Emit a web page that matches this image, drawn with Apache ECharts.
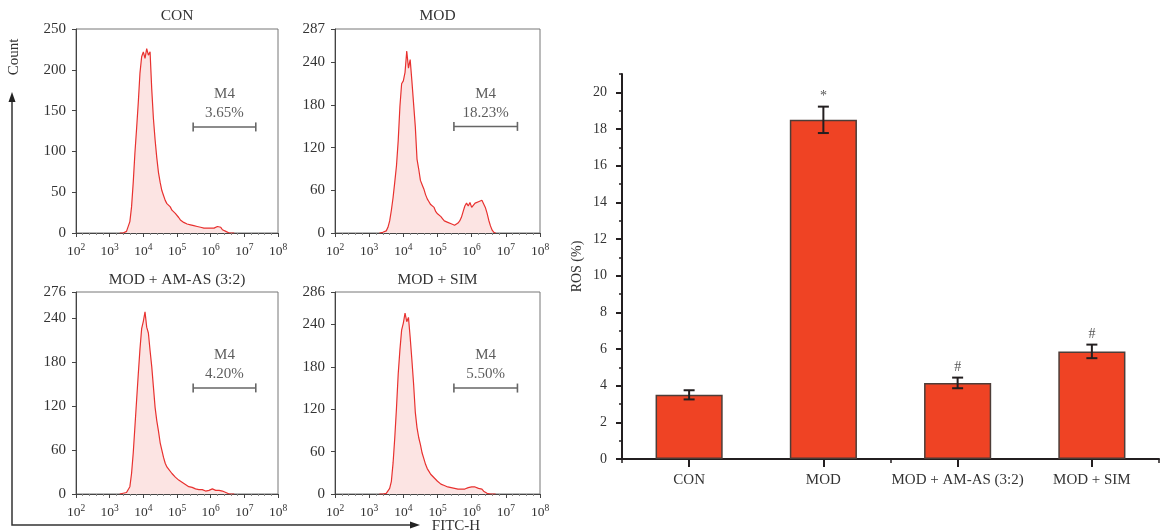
<!DOCTYPE html>
<html>
<head>
<meta charset="utf-8">
<title>ROS flow cytometry</title>
<script src="https://cdn.jsdelivr.net/npm/echarts@6.0.0/dist/echarts.min.js"></script>
<style>
  html, body { margin: 0; padding: 0; background: #fff; }
  #chart { width: 1165px; height: 532px; }
</style>
</head>
<body>
<div id="chart"></div>
<script>
  // log10(FITC-H) channel positions shared by the four histograms
  const bins = [
    3.30, 3.35, 3.40, 3.45, 3.50, 3.55, 3.60, 3.65, 3.70, 3.75,
    3.80, 3.85, 3.90, 3.95, 4.00, 4.05, 4.10, 4.15, 4.20, 4.25,
    4.30, 4.35, 4.40, 4.45, 4.50, 4.55, 4.60, 4.65, 4.70, 4.75,
    4.80, 4.85, 4.90, 4.95, 5.00, 5.05, 5.10, 5.15, 5.20, 5.25,
    5.30, 5.35, 5.40, 5.45, 5.50, 5.55, 5.60, 5.65, 5.70, 5.75,
    5.80, 5.85, 5.90, 5.95, 6.00, 6.05, 6.10, 6.15, 6.20, 6.25,
    6.30, 6.35, 6.40, 6.45, 6.50, 6.55, 6.60, 6.65, 6.70
  ];
  const conCounts = [
    0, 0, 0, 1, 2, 4, 14, 32, 62, 98,
    128, 160, 196, 216, 222, 214, 226, 218, 222, 176,
    140, 114, 92, 74, 62, 52, 46, 40, 36, 34,
    32, 28, 26, 24, 22, 19, 16, 15, 13, 12,
    11, 11, 10, 9, 9, 8, 8, 7, 7, 6,
    6, 5, 6, 5, 6, 5, 6, 7, 8, 6,
    7, 4, 3, 2, 1, 0, 0, 0, 0
  ];
  const modCounts = [
    0, 0, 1, 2, 3, 8, 17, 32, 50, 72,
    95, 130, 178, 210, 214, 226, 256, 232, 244, 214,
    212, 150, 104, 90, 74, 68, 62, 54, 48, 44,
    40, 38, 36, 30, 27, 26, 23, 20, 17, 18,
    15, 16, 13, 14, 11, 13, 14, 17, 22, 30,
    38, 42, 38, 43, 36, 38, 42, 40, 44, 42,
    46, 47, 36, 28, 18, 10, 4, 1, 0
  ];
  const amasCounts = [
    0, 0, 1, 1, 2, 4, 10, 28, 56, 92,
    128, 164, 198, 226, 236, 249, 228, 220, 196, 174,
    146, 118, 100, 86, 70, 60, 50, 42, 37, 34,
    32, 28, 26, 23, 21, 19, 18, 16, 14, 13,
    12, 10, 10, 9, 8, 7, 6, 6, 5, 6,
    5, 4, 6, 5, 6, 7, 6, 5, 6, 5,
    5, 4, 3, 2, 1, 0, 0, 0, 0
  ];
  const simCounts = [
    0, 0, 0, 1, 1, 2, 8, 18, 44, 80,
    122, 170, 204, 232, 242, 256, 244, 250, 222, 190,
    156, 116, 94, 80, 70, 58, 50, 42, 36, 32,
    28, 26, 23, 21, 18, 16, 14, 13, 12, 11,
    10, 10, 9, 9, 8, 8, 7, 8, 7, 8,
    7, 8, 9, 8, 10, 9, 10, 9, 8, 9,
    7, 4, 2, 1, 0, 0, 0, 0, 0
  ];
  const panelTitles = ['CON', 'MOD', 'MOD + AM-AS (3:2)', 'MOD + SIM'];
  const panelMax = [250, 287, 276, 286];
  const panelInterval = [50, 60, 60, 60];
  const decadeTicks = [2, 3, 4, 5, 6, 7, 8];
  // M4 gate: log10 range, drawn height (count) and gated percentage
  const gateRange = [5.48, 7.34];
  const gateLevel = [130, 150, 145, 150];
  const gatePercent = ['3.65%', '18.23%', '4.20%', '5.50%'];

  // ROS bar chart
  const groups = ['CON', 'MOD', 'MOD + AM-AS (3:2)', 'MOD + SIM'];
  const rosMean = [3.5, 18.5, 4.15, 5.87];
  const rosErr = [0.25, 0.72, 0.29, 0.37];
  const rosMark = ['', '*', '#', '#'];
  const rosTicks = [0, 2, 4, 6, 8, 10, 12, 14, 16, 18, 20];

  const histCounts = [conCounts, modCounts, amasCounts, simCounts];
  const FONT = 'Liberation Serif';
  const TXT = '#333';
  const AX = '#231F20';

  const panelBox = [
    {left: 76, top: 29, width: 202, height: 204},
    {left: 335, top: 29, width: 205, height: 204},
    {left: 76, top: 292, width: 202, height: 202},
    {left: 335, top: 292, width: 205, height: 202}
  ];

  const grid = [], xAxis = [], yAxis = [], series = [], graphic = [];

  panelBox.forEach(function (b, i) {
    grid.push(Object.assign({
      show: true, borderColor: '#777', borderWidth: 1,
      backgroundColor: 'transparent', outerBoundsMode: 'none'
    }, b));
    xAxis.push({
      type: 'value', gridIndex: i, min: decadeTicks[0], max: decadeTicks[decadeTicks.length - 1], interval: 1,
      axisLine: {show: true, lineStyle: {color: '#444', width: 1}},
      axisTick: {show: true, length: 4, lineStyle: {color: '#444'}},
      minorTick: {show: true, splitNumber: 5, length: 2, lineStyle: {color: '#888'}},
      splitLine: {show: false},
      axisLabel: {
        margin: 9, color: TXT, fontFamily: FONT,
        formatter: function (v) { return '{b|10}{s|' + v + '}'; },
        rich: {
          b: {fontFamily: FONT, fontSize: 13.5, color: TXT, lineHeight: 16, verticalAlign: 'bottom'},
          s: {fontFamily: FONT, fontSize: 9.5, color: TXT, lineHeight: 10, verticalAlign: 'top'}
        }
      }
    });
    yAxis.push({
      type: 'value', gridIndex: i, min: 0, max: panelMax[i], interval: panelInterval[i],
      axisLine: {show: true, lineStyle: {color: '#444', width: 1}},
      axisTick: {show: true, length: 4, lineStyle: {color: '#444'}},
      splitLine: {show: false},
      axisLabel: {margin: 10, color: TXT, fontFamily: FONT, fontSize: 15}
    });
    series.push({
      type: 'line', xAxisIndex: i, yAxisIndex: i, silent: true,
      data: bins.map(function (x, k) { return [x, histCounts[i][k]]; }),
      symbol: 'none', smooth: false,
      lineStyle: {color: '#E8312F', width: 1.2},
      areaStyle: {color: '#FCE4E3', opacity: 1}
    });
    series.push({
      type: 'line', xAxisIndex: i, yAxisIndex: i, silent: true,
      data: gateRange.map(function (x) { return [x, gateLevel[i]]; }),
      symbol: 'rect', symbolSize: [1.6, 9],
      lineStyle: {color: '#666', width: 1.5},
      itemStyle: {color: '#666'}
    });
    series.push({
      type: 'scatter', xAxisIndex: i, yAxisIndex: i, silent: true,
      data: [[(gateRange[0] + gateRange[1]) / 2, gateLevel[i]]],
      symbolSize: 0,
      label: {
        show: true, position: 'top', distance: 4,
        formatter: 'M4\n' + gatePercent[i],
        fontFamily: FONT, fontSize: 15, lineHeight: 19, color: TXT
      }
    });
    graphic.push({
      type: 'text', x: b.left + b.width / 2, y: i < 2 ? 16 : 280,
      style: {text: panelTitles[i], align: 'center', verticalAlign: 'middle',
        font: '15.5px "' + FONT + '"', fill: TXT}
    });
  });

  // bar chart grid (index 4)
  grid.push({left: 622, top: 74, width: 537, height: 385, outerBoundsMode: 'none'});
  xAxis.push({
    type: 'category', gridIndex: 4, data: groups,
    axisLine: {show: true, lineStyle: {color: AX, width: 2}},
    axisTick: {show: true, alignWithLabel: true, length: 8, lineStyle: {color: AX, width: 2}},
    axisLabel: {interval: 0, margin: 14, color: TXT, fontFamily: FONT, fontSize: 15}
  });
  xAxis.push({
    type: 'category', gridIndex: 4, data: groups, position: 'bottom',
    axisLine: {show: false},
    axisTick: {show: true, length: 4, lineStyle: {color: AX, width: 1.5}},
    axisLabel: {show: false}
  });
  yAxis.push({
    type: 'value', gridIndex: 4, min: 0, max: 21, interval: 1, position: 'left',
    name: 'ROS (%)', nameLocation: 'middle', nameGap: 38,
    nameTextStyle: {fontFamily: FONT, fontSize: 14, color: TXT},
    axisLine: {show: true, lineStyle: {color: AX, width: 2}},
    axisTick: {show: true, length: 3, lineStyle: {color: AX, width: 1.5}},
    splitLine: {show: false},
    axisLabel: {
      margin: 15, color: TXT, fontFamily: FONT, fontSize: 14,
      formatter: function (v) { return rosTicks.indexOf(v) >= 0 ? String(v) : ''; }
    }
  });
  yAxis.push({
    type: 'value', gridIndex: 4, min: 0, max: 21, interval: 2, position: 'left', offset: 0,
    axisLine: {show: false},
    axisTick: {show: true, length: 6, customValues: rosTicks, lineStyle: {color: AX, width: 2}},
    splitLine: {show: false},
    axisLabel: {show: false}
  });
  series.push({
    type: 'bar', xAxisIndex: 4, yAxisIndex: 4, data: rosMean, barWidth: '50%', silent: true,
    itemStyle: {color: '#EF4324', borderColor: '#4d3d38', borderWidth: 1.5}
  });
  series.push({
    type: 'custom', xAxisIndex: 4, yAxisIndex: 4, z: 5, silent: true,
    data: rosMean.map(function (m, i) { return [i, m, rosErr[i]]; }),
    renderItem: function (params, api) {
      const i = api.value(0), m = api.value(1), e = api.value(2);
      const hi = api.coord([i, m + e]);
      const lo = api.coord([i, m - e]);
      const cap = 5.5;
      const st = {stroke: AX, lineWidth: 2};
      return {type: 'group', children: [
        {type: 'line', shape: {x1: hi[0], y1: hi[1], x2: lo[0], y2: lo[1]}, style: st},
        {type: 'line', shape: {x1: hi[0] - cap, y1: hi[1], x2: hi[0] + cap, y2: hi[1]}, style: st},
        {type: 'line', shape: {x1: lo[0] - cap, y1: lo[1], x2: lo[0] + cap, y2: lo[1]}, style: st},
        {type: 'text', x: hi[0], y: hi[1] - 3, style: {
          text: rosMark[params.dataIndex], align: 'center', verticalAlign: 'bottom',
          font: '14px "' + FONT + '"', fill: '#555'}}
      ]};
    }
  });

  // shared axis annotation for the histograms
  graphic.push(
    {type: 'text', x: 14, y: 57, rotation: Math.PI / 2,
      style: {text: 'Count', align: 'center', verticalAlign: 'middle', font: '15px "' + FONT + '"', fill: TXT}},
    {type: 'polyline', shape: {points: [[12, 101], [12, 525], [411, 525]]},
      style: {stroke: '#333', lineWidth: 1.5, fill: null}},
    {type: 'polygon', shape: {points: [[12, 92], [8.5, 102], [15.5, 102]]}, style: {fill: '#222'}},
    {type: 'polygon', shape: {points: [[420, 525], [410, 521.5], [410, 528.5]]}, style: {fill: '#222'}},
    {type: 'text', x: 456, y: 526,
      style: {text: 'FITC-H', align: 'center', verticalAlign: 'middle', font: '15px "' + FONT + '"', fill: TXT}}
  );

  const chart = echarts.init(document.getElementById('chart'), null, {renderer: 'canvas'});
  chart.setOption({
    animation: false,
    backgroundColor: '#fff',
    textStyle: {fontFamily: FONT},
    grid: grid,
    xAxis: xAxis,
    yAxis: yAxis,
    series: series,
    graphic: graphic
  });
</script>
</body>
</html>
